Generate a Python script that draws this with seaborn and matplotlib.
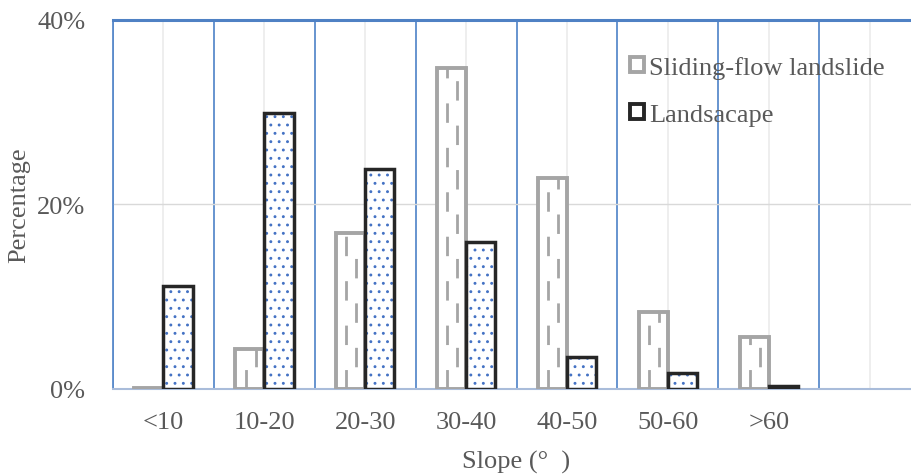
import numpy as np
import pandas as pd
import matplotlib
matplotlib.use("Agg")
import matplotlib.pyplot as plt
from matplotlib.patches import Patch, Rectangle
from matplotlib.ticker import FixedLocator, PercentFormatter
import seaborn as sns

# data
categories = ['<10', '10-20', '20-30', '30-40', '40-50', '50-60', '>60']
sliding_flow = [0.1, 4.3, 16.9, 34.8, 22.9, 8.3, 5.6]
landscape = [11.2, 29.9, 23.8, 15.9, 3.5, 1.7, 0.3]
series_names = ['Sliding-flow landslide', 'Landsacape']

df = pd.DataFrame({
    'slope': categories * 2,
    'pct': sliding_flow + landscape,
    'type': [series_names[0]] * len(categories) + [series_names[1]] * len(categories),
})

GREY = '#A5A5A5'
BLACK = '#262626'
BLUE = '#4472C4'
TXT = '#595959'
FS = 19

sns.set_style("white")
plt.rcParams['font.family'] = ['Liberation Serif', 'DejaVu Serif']
plt.rcParams['hatch.linewidth'] = 0.9

fig = plt.figure(figsize=(9.12, 4.77), dpi=100)
ax = fig.add_axes([0.1239, 0.1824, 0.885, 0.7736])

sns.barplot(data=df, x='slope', y='pct', hue='type', order=categories,
            hue_order=series_names, width=0.58, gap=0, ax=ax,
            legend=False, zorder=3)

# sliding-flow bars: grey outline + dashed vertical fill
for p in ax.containers[0]:
    p.set_facecolor('white')
    p.set_edgecolor(GREY)
    p.set_linewidth(2.8)
    x0, w, h = p.get_x(), p.get_width(), p.get_height()
    if h > 1:
        for frac, off in [(0.36, 0), (0.70, 8)]:
            xx = x0 + w * frac
            ax.plot([xx, xx], [0, h], color=GREY, lw=2.0, zorder=4,
                    linestyle=(off, (7, 9)), dash_capstyle='butt')

# landscape bars: blue dots + black outline
for p in ax.containers[1]:
    p.set_facecolor('white')
    p.set_edgecolor(BLUE)
    p.set_linewidth(0)
    p.set_hatch('..')
    ax.add_patch(Rectangle((p.get_x(), 0), p.get_width(), p.get_height(),
                           fill=False, edgecolor=BLACK, lw=2.5, zorder=4))

ax.set_xlim(-0.5, 7.5)
ax.set_ylim(0, 40)
ax.set_xticks(range(8))
ax.set_xticklabels(categories + [''])
ax.xaxis.set_minor_locator(FixedLocator(np.arange(-0.5, 8, 1)))
ax.set_yticks([0, 20, 40])
ax.yaxis.set_major_formatter(PercentFormatter(decimals=0))

ax.grid(axis='x', which='major', color='#EBEBEB', lw=1.2, zorder=0)
ax.grid(axis='y', which='major', color='#D9D9D9', lw=1.0, zorder=0)
ax.grid(axis='x', which='minor', color='#5B8BCB', lw=1.3, zorder=1)
ax.set_axisbelow(True)

ax.tick_params(axis='both', which='both', length=0, labelsize=FS,
               labelcolor=TXT)
ax.tick_params(axis='x', pad=16)
ax.tick_params(axis='y', pad=20)

for side in ['left', 'right']:
    ax.spines[side].set_color('#5B8BCB')
    ax.spines[side].set_linewidth(1.3)
ax.spines['top'].set_color('#4F81C4')
ax.spines['top'].set_linewidth(2.2)
ax.spines['bottom'].set_color('#A9BCDA')
ax.spines['bottom'].set_linewidth(1.5)

ax.set_xlabel('Slope (°  )', fontsize=FS, color=TXT, labelpad=12)
ax.set_ylabel('Percentage', fontsize=FS, color=TXT, labelpad=5)

handles = [
    Patch(facecolor='white', edgecolor=GREY, lw=2.8),
    Patch(facecolor='white', edgecolor=BLACK, lw=2.8),
]
leg = ax.legend(handles, series_names, loc='upper left',
                bbox_to_anchor=(0.628, 0.932), frameon=False, fontsize=FS,
                handlelength=0.5, handleheight=0.5, handletextpad=0.2,
                labelspacing=0.95, borderaxespad=0)
for t in leg.get_texts():
    t.set_color(TXT)

fig.savefig('out.png', dpi=100)
